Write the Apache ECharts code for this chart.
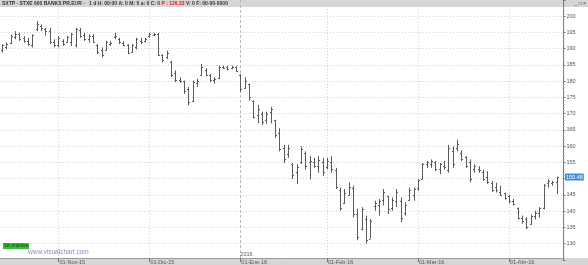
<!DOCTYPE html>
<html><head><meta charset="utf-8">
<script src="https://cdn.jsdelivr.net/npm/echarts@6/dist/echarts.min.js"></script>
<style>html,body{margin:0;padding:0;background:#fff}#c{width:588px;height:265px}</style>
</head><body><div id="c"></div>
<script>
// Trading days (categories)
const dates = [
'2015-10-14','2015-10-15','2015-10-16','2015-10-19','2015-10-20','2015-10-21','2015-10-22','2015-10-23','2015-10-26','2015-10-27','2015-10-28','2015-10-29','2015-10-30',
'2015-11-02','2015-11-03','2015-11-04','2015-11-05','2015-11-06','2015-11-09','2015-11-10','2015-11-11','2015-11-12','2015-11-13','2015-11-16','2015-11-17','2015-11-18','2015-11-19','2015-11-20','2015-11-23','2015-11-24','2015-11-25','2015-11-26','2015-11-27','2015-11-30',
'2015-12-01','2015-12-02','2015-12-03','2015-12-04','2015-12-07','2015-12-08','2015-12-09','2015-12-10','2015-12-11','2015-12-14','2015-12-15','2015-12-16','2015-12-17','2015-12-18','2015-12-21','2015-12-22','2015-12-23','2015-12-24','2015-12-28','2015-12-29','2015-12-30',
'2016-01-04','2016-01-05','2016-01-06','2016-01-07','2016-01-08','2016-01-11','2016-01-12','2016-01-13','2016-01-14','2016-01-15','2016-01-18','2016-01-19','2016-01-20','2016-01-21','2016-01-22','2016-01-25','2016-01-26','2016-01-27','2016-01-28','2016-01-29',
'2016-02-01','2016-02-02','2016-02-03','2016-02-04','2016-02-05','2016-02-08','2016-02-09','2016-02-10','2016-02-11','2016-02-12','2016-02-15','2016-02-16','2016-02-17','2016-02-18','2016-02-19','2016-02-22','2016-02-23','2016-02-24','2016-02-25','2016-02-26','2016-02-29',
'2016-03-01','2016-03-02','2016-03-03','2016-03-04','2016-03-07','2016-03-08','2016-03-09','2016-03-10','2016-03-11','2016-03-14','2016-03-15','2016-03-16','2016-03-17','2016-03-18','2016-03-21','2016-03-22','2016-03-23','2016-03-24','2016-03-29','2016-03-30','2016-03-31',
'2016-04-01','2016-04-04','2016-04-05','2016-04-06','2016-04-07','2016-04-08','2016-04-11','2016-04-12','2016-04-13','2016-04-14','2016-04-15','2016-04-18'
];
// OHLC values
const opens = [189.5,190.5,191.8,193.5,194.5,193.3,192.5,191.0,196.0,197.0,196.0,195.5,192.2,
191.0,192.5,192.0,192.0,191.0,195.8,194.2,193.0,193.8,191.0,189.5,189.5,191.5,193.5,193.0,191.8,191.0,189.0,190.5,192.5,192.5,
193.8,194.2,194.5,188.0,187.5,186.0,182.5,180.5,180.0,177.5,174.0,179.5,182.0,183.5,182.0,180.5,181.0,184.3,184.5,184.0,184.3,
182.0,177.8,179.0,174.0,169.5,170.0,168.0,170.5,168.0,164.0,159.5,157.5,154.5,152.0,155.0,158.0,155.0,155.0,154.0,155.0,
153.5,155.0,152.5,146.5,142.5,145.0,147.0,139.0,134.5,137.5,131.5,141.5,142.0,143.5,144.5,141.0,143.0,143.0,139.5,143.5,145.0,
147.0,150.0,154.5,154.5,155.0,153.0,154.0,152.5,158.5,159.5,158.0,156.5,155.0,153.0,153.0,152.0,150.5,148.5,147.5,146.0,145.5,
144.5,143.0,141.0,138.0,137.5,136.0,138.5,139.5,141.0,148.5,148.5,149.0];
const highs = [191.4,191.9,194.4,195.4,194.9,193.9,193.4,194.4,198.5,197.5,196.4,196.4,192.9,
193.9,192.9,193.9,194.9,196.4,196.4,194.9,194.4,194.4,191.4,190.4,192.4,192.4,194.9,193.4,192.4,191.4,191.4,193.4,193.4,193.4,
194.9,194.9,194.9,188.3,189.4,186.3,183.3,181.2,180.2,178.2,180.2,180.7,185.3,184.0,182.2,181.2,184.8,184.8,184.8,184.8,184.6,
182.2,181.2,179.2,174.1,172.7,170.6,170.6,172.1,168.1,165.5,160.4,160.4,154.8,154.4,159.9,158.4,156.9,156.4,156.9,156.4,
156.4,156.9,153.3,147.2,146.8,148.8,147.8,140.7,141.2,138.6,137.6,143.2,143.7,146.8,144.7,144.2,146.8,144.2,142.7,147.2,147.2,
149.8,154.8,155.4,155.9,155.4,154.8,155.4,160.4,159.9,162.0,158.7,156.9,155.9,154.4,153.8,152.8,152.3,149.3,148.7,147.8,145.7,
145.0,143.7,141.1,138.6,138.1,138.9,140.1,141.2,148.3,149.8,149.3,150.6];
const lows = [188.8,189.8,191.4,192.9,192.4,191.9,190.9,190.4,195.4,195.4,193.9,191.4,190.4,
190.4,190.9,191.9,190.9,190.4,193.4,192.4,191.9,191.9,188.3,187.3,189.4,190.9,192.9,191.4,190.9,188.3,188.8,189.8,191.4,191.9,
193.4,193.9,187.8,185.8,186.8,181.2,179.7,179.4,176.1,172.6,173.6,178.2,181.7,181.5,179.7,179.2,180.7,183.7,183.3,183.7,182.8,
176.7,177.7,174.1,168.5,167.0,166.5,166.9,167.0,162.5,158.4,154.8,156.4,149.9,148.3,154.5,152.8,149.8,153.3,151.8,150.8,
152.8,151.8,146.8,140.1,142.2,144.7,138.1,131.0,134.1,130.0,131.5,140.1,138.6,141.7,139.1,140.1,141.2,136.6,138.6,143.2,143.2,
146.2,149.8,153.2,153.3,152.3,151.3,152.8,151.8,153.3,158.4,155.4,153.3,148.8,151.8,151.8,149.3,148.4,145.9,145.7,144.7,143.5,
142.3,141.7,137.4,136.1,134.4,135.9,137.4,138.0,140.5,147.2,147.8,145.2];
const closes = [191.0,191.5,194.0,194.6,193.0,192.5,191.5,194.2,197.6,196.5,195.5,192.0,191.0,
193.3,191.5,193.5,194.5,196.0,194.0,193.0,194.0,192.2,189.0,188.0,192.0,191.8,194.0,192.0,191.2,188.8,191.0,193.0,192.0,193.0,
194.5,194.5,188.2,186.5,188.8,182.0,180.5,180.2,177.0,173.5,179.8,180.2,184.5,182.0,180.5,180.8,184.5,184.0,183.8,184.5,183.0,
177.5,180.0,175.0,169.0,171.5,167.5,170.0,171.5,163.5,159.0,156.0,159.5,151.0,153.5,159.0,154.0,155.5,154.0,155.8,152.0,
155.5,153.0,147.5,141.0,145.5,147.5,139.0,132.0,140.5,131.0,137.0,142.5,143.0,146.0,140.5,143.5,146.0,138.0,142.0,146.5,146.8,
149.5,154.5,155.0,155.5,153.0,154.5,153.5,159.5,154.5,160.5,156.0,154.0,150.0,154.0,152.5,150.0,149.0,146.5,146.5,145.0,144.0,
143.0,142.2,138.0,137.0,135.0,138.5,139.5,140.8,148.0,149.3,148.8,150.48];
const yTicks = {min:125, max:205, step:5};
const lastPrice = 150.48;
const meses = ['Ene','Feb','Mar','Abr','May','Jun','Jul','Ago','Sep','Oct','Nov','Dic'];
const titleText = 'SXTP - STXE 600 BANKS PR.EUR -   1 d H: 00:00 A: 0 M: 0 a: 0 C: 0 ';
const titleRed = 'P : 126.33';
const titleTail = ' V: 0 F: 00-00-0000';

const cats = dates.concat(['']);
const monthStart = new Set();
for (let i = 1; i < dates.length; i++) if (dates[i].slice(0,7) !== dates[i-1].slice(0,7)) monthStart.add(i);
const yearStart = new Set();
for (let i = 1; i < dates.length; i++) if (dates[i].slice(0,4) !== dates[i-1].slice(0,4)) yearStart.add(i);

const data = dates.map((d,i) => [i, opens[i], highs[i], lows[i], closes[i]]);

function renderItem(params, api) {
  const i = api.value(0);
  const o = api.coord([i, api.value(1)]);
  const h = api.coord([i, api.value(2)]);
  const l = api.coord([i, api.value(3)]);
  const c = api.coord([i, api.value(4)]);
  const x = Math.round(h[0]) + 0.5;
  const st = {stroke:'#5a5a5a', lineWidth:1};
  return {type:'group', children:[
    {type:'line', shape:{x1:x, y1:h[1], x2:x, y2:l[1]}, style:st},
    {type:'line', shape:{x1:x-1.5, y1:Math.round(o[1])+0.5, x2:x, y2:Math.round(o[1])+0.5}, style:st},
    {type:'line', shape:{x1:x, y1:Math.round(c[1])+0.5, x2:x+1.5, y2:Math.round(c[1])+0.5}, style:st}
  ]};
}

const chart = echarts.init(document.getElementById('c'), null, {renderer:'canvas'});
const FONT = 'Liberation Sans';
chart.setOption({
  animation:false,
  backgroundColor:'#ffffff',
  textStyle:{fontFamily:FONT},
  title:[
    {left:2, top:0, padding:0, text:'{a|'+titleText+'}{r|'+titleRed+'}{a|'+titleTail+'}',
     textStyle:{rich:{a:{fontSize:5, color:'#333', fontFamily:FONT, lineHeight:7}, r:{fontSize:5, color:'#e02020', fontFamily:FONT, lineHeight:7}}}},
    {right:2, top:0, padding:0, text:'_ □ ×', textStyle:{fontSize:5, color:'#444', fontWeight:'normal', fontFamily:FONT, lineHeight:7}},
    {left:3, top:243, padding:[0,1], text:'Sin órdenes', backgroundColor:'#33c033', textStyle:{fontSize:4.5, color:'#1a3a1a', fontWeight:'normal', fontFamily:FONT, lineHeight:6}},
    {left:28, top:249, padding:0, text:'www.visualchart.com', textStyle:{fontSize:6.5, color:'#8a88c8', fontWeight:'normal', fontFamily:FONT, lineHeight:7}}
  ],
  graphic:[
    {type:'rect', z:-10, shape:{x:0, y:0, width:588, height:7}, style:{fill:'#d6d6d6'}},
    {type:'rect', z:-10, shape:{x:0, y:258, width:588, height:7}, style:{fill:'#d6d6d6'}}
  ],
  grid:{left:0, width:563, top:-3.13, height:262.88},
  xAxis:[
    {type:'category', data:cats, boundaryGap:true, offset:-1.75,
     axisLine:{show:true, lineStyle:{color:'#9a9a9a', width:1}},
     axisTick:{show:true, alignWithLabel:true, length:4, interval:(i)=>monthStart.has(i), lineStyle:{color:'#777'}},
     axisLabel:{show:true, interval:(i)=>monthStart.has(i), align:'left', margin:1, fontSize:5.5, color:'#555', fontFamily:FONT, padding:[0,0,0,1],
       formatter:(v)=>{ if(!v) return ''; const p=v.split('-'); return '01-'+meses[+p[1]-1]+'-'+p[0].slice(2); }},
     splitLine:{show:true, alignWithLabel:true, interval:(i)=>monthStart.has(i) && !yearStart.has(i), lineStyle:{color:'#cfcfcf', type:[1,2], width:1}}
    },
    {type:'category', data:cats, boundaryGap:true, position:'bottom', offset:-1.75,
     axisLine:{show:false}, axisTick:{show:false},
     axisLabel:{show:true, inside:true, interval:(i)=>yearStart.has(i), align:'left', margin:1, fontSize:5.5, color:'#555', fontFamily:FONT,
       formatter:(v)=> v ? v.slice(0,4) : ''},
     splitLine:{show:true, alignWithLabel:true, interval:(i)=>yearStart.has(i), lineStyle:{color:'#b8b8b8', type:[3,2], width:1}}
    }
  ],
  yAxis:{type:'value', position:'right', min:yTicks.min, max:yTicks.max, interval:yTicks.step,
    axisLine:{show:true, lineStyle:{color:'#777'}},
    axisTick:{show:true, length:2.5, lineStyle:{color:'#777'}},
    minorTick:{show:true, splitNumber:5, length:1.5, lineStyle:{color:'#999'}},
    axisLabel:{fontSize:5.5, color:'#555', margin:3.5, fontFamily:FONT,
      formatter:(v)=> (v===yTicks.min||v===yTicks.max)?'':String(v)},
    splitLine:{show:true, showMinLine:false, showMaxLine:false, lineStyle:{color:'#d2d2d2', type:[1,2], width:1}}
  },
  series:[
    {type:'custom', renderItem:renderItem, data:data, encode:{x:0, y:[1,2,3,4]}, clip:false, z:5,
     markLine:{silent:true, symbol:['none','none'], animation:false, lineStyle:{color:'rgba(255,255,255,0)', width:1, type:'solid'},
      data:[{yAxis:lastPrice}],
      label:{show:true, position:'end', distance:2, formatter:()=>String(lastPrice), fontSize:5.5, color:'#ffffff', backgroundColor:'#3c8fdc', padding:[1,1,0,1], fontFamily:FONT, opacity:1}}}
  ]
});
</script></body></html>
